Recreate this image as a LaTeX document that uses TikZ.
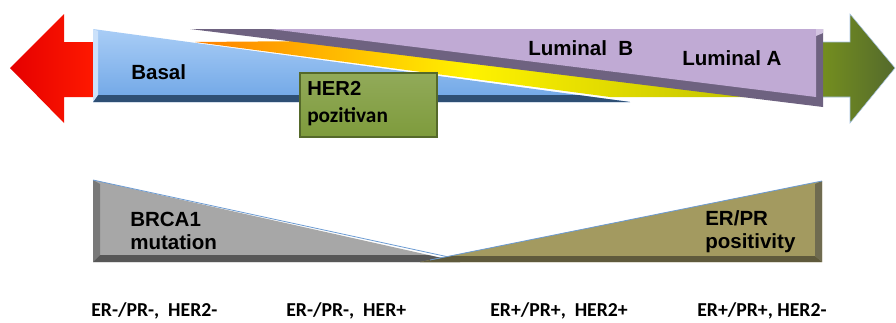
\documentclass[tikz,border=0pt]{standalone}
\usepackage{fontspec}
\setmainfont{Liberation Sans}
\newfontfamily\carlito{Carlito}
\usepackage{xcolor}
\usepackage{tikz}
\usetikzlibrary{positioning,calc}
\definecolor{basalblue}{HTML}{6FA6E6}
\definecolor{basaltop}{HTML}{A9CDF6}
\definecolor{basaldark}{HTML}{2E4F74}
\definecolor{lumpurple}{HTML}{C0AAD4}
\definecolor{lumdark}{HTML}{6E6280}
\definecolor{hergreen}{HTML}{7E9B3C}
\definecolor{herline}{HTML}{55692A}
\definecolor{brcagray}{HTML}{A7A7A7}
\definecolor{brcadark}{HTML}{575757}
\definecolor{erolive}{HTML}{A39A60}
\definecolor{erdark}{HTML}{5F5A3C}
\definecolor{edgeblue}{HTML}{6C9BD2}
\definecolor{heryellow}{HTML}{FFF200}
\definecolor{herolive}{HTML}{C4C400}
\newcommand\blab[1]{\fontsize{15.4}{18}\selectfont\bfseries #1}
\newcommand\clab[1]{{\carlito\fontsize{14.8}{17}\selectfont\bfseries #1}}
\tikzset{
  lab/.style = {anchor = west, align = left, inner sep = 0pt},
  sublab/.style = {anchor = base west, inner sep = 0pt},
  rim/.style = {draw = edgeblue, line width = 0.6pt}
}
\begin{document}
\begin{tikzpicture}[x = 0.75pt, y = -0.75pt]
\useasboundingbox (0,0) rectangle (896,322);
% arrows at both ends
\shade[left color = red!90!black, right color = red!80!orange] (10,68) -- (64,14) -- (64,42) -- (96,42) -- (96,97) -- (64,97) -- (64,123) -- cycle;
\shade[left color = {rgb,255:red,116;green,142;blue,31}, right color = {rgb,255:red,84;green,106;blue,44}, draw = edgeblue!60, line width = 0.4pt] (822,42) -- (850,42) -- (850,14) -- (895,68) -- (850,123) -- (850,97) -- (822,97) -- cycle;
% basal wedge
\shade[top color = basaltop, bottom color = basalblue] (93,29) -- (630,102) -- (93,102) -- cycle;
\fill[basaldark] (93,95) -- (578,95) -- (630,102) -- (93,102) -- cycle;
\fill[basaltop!60!white] (93,29) -- (98,31) -- (98,95) -- (93,102) -- cycle;
% her2 wedge
\shade[left color = orange, right color = herolive, middle color = heryellow] (195,42) -- (320,41) -- (745,97) -- (610,97) -- cycle;
% luminal wedge
\fill[lumdark] (190,29) -- (823,29) -- (823,107) -- cycle;
\fill[lumpurple] (270,29) -- (816,29) -- (816,97) -- cycle;
\fill[lumpurple!70!white] (816,29) -- (823,29) -- (823,33) -- (816,36) -- cycle;
% her2 box
\shade[top color = hergreen!85!white, bottom color = hergreen, draw = herline, line width = 1pt] (300,73) rectangle (437,137);
% brca1 wedge
\fill[brcagray] (93,180) -- (460,262) -- (93,262) -- cycle;
\fill[brcadark] (93,255) -- (428,255) -- (460,262) -- (93,262) -- cycle;
\fill[brcadark!80] (93,180) -- (100,184) -- (100,255) -- (93,262) -- cycle;
\draw[rim] (93,180) -- (458,259);
% er/pr wedge
\fill[erolive] (420,262) -- (822,181) -- (822,262) -- cycle;
\fill[erdark] (452,256) -- (815,256) -- (822,262) -- (420,262) -- cycle;
\fill[erdark!90] (815,184) -- (822,181) -- (822,262) -- (815,256) -- cycle;
\draw[rim] (430,260) -- (822,181);
% labels
\node[lab] (basal) at (131,72) {\blab{Basal}};
\node[lab] (lumb) at (528,48) {\blab{Luminal\ \ B}};
\node[lab] (luma) at (682,58) {\blab{Luminal A}};
\node[lab] (her) at (307,88) {\fontsize{15.2}{18}\selectfont\bfseries HER2};
\node[lab] (poz) at (307,117) {\carlito\fontsize{16}{18}\selectfont\bfseries pozitivan};
\node[lab] (brca) at (130,219) {\blab{BRCA1}};
\node[lab] (mut) at (130,242) {\blab{mutation}};
\node[lab] (erpr) at (705,218) {\blab{ER/PR}};
\node[lab] (pos) at (705,243) {\blab{positivity}};
\node[sublab] (tnbc) at (91,316) {\clab{ER-/PR-,\ \ HER2-}};
\node[sublab] (herpos) at (286,316) {\clab{ER-/PR-,\ \ HER+}};
\node[sublab] (lumbpos) at (490,316) {\clab{ER+/PR+,\ \ HER2+}};
\node[sublab] (lumapos) at (697,316) {\clab{ER+/PR+, HER2-}};
\end{tikzpicture}
\end{document}
